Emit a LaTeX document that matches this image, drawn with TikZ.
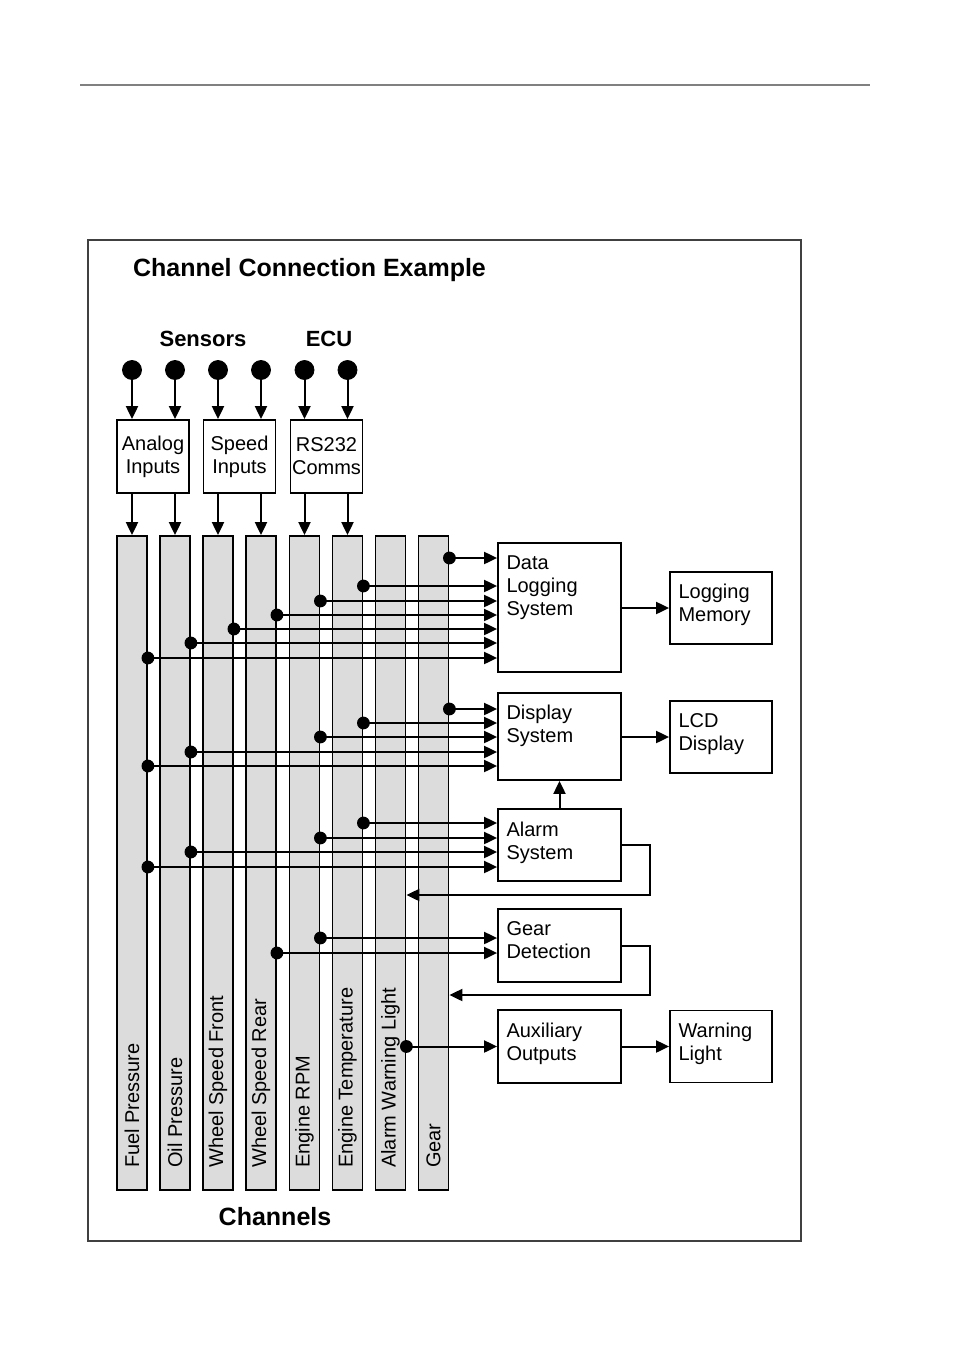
\documentclass[tikz,border=0pt]{standalone}
\usepackage{fontspec}
\setmainfont{Liberation Sans}
\usetikzlibrary{arrows.meta}
\definecolor{chanfill}{RGB}{220,220,220}
\definecolor{framecolor}{RGB}{64,64,64}

\begin{document}
\begin{tikzpicture}[x=0.5pt,y=-0.5pt]

    \tikzstyle{every node}=[font=\fontsize{10}{11.5}\selectfont]
    \tikzstyle{box}=[draw, line width=0.9pt, inner sep=0pt]
    \tikzstyle{inbox}=[box, minimum width=36pt, minimum height=36.5pt, align=center]
    \tikzstyle{sysbox}=[box, minimum width=61.5pt]
    \tikzstyle{outbox}=[box, minimum width=51pt, minimum height=36pt]
    \tikzstyle{chan}=[draw, fill=chanfill, line width=0.9pt, minimum width=15pt, minimum height=327pt, inner sep=0pt]
    \tikzstyle{arr}=[line width=1pt, -{Triangle[length=6.5pt,width=6pt]}]
    \tikzstyle{heading}=[font=\bfseries\fontsize{11}{13}\selectfont]
    \tikzset{toptext/.style={label={[anchor=north west, align=left, inner sep=0pt, xshift=4.5pt, yshift=-6.5pt]north west:{#1}}}}
    \def\tapdot{3.2pt}
    \def\srcdot{4.75pt}
    \def\barY{863}
    \def\srcY{370}

    \useasboundingbox (0,0) rectangle (954,1348);
    \draw[gray, line width=0.6pt] (80,85) -- (870,85);
    \draw[framecolor, line width=0.8pt] (88,240) rectangle (801,1241);

    \node[heading, font=\bfseries\fontsize{12.5}{15}\selectfont, anchor=west] (title) at (126,270) {Channel Connection Example};
    \node[heading] (sensors) at (203,339) {Sensors};
    \node[heading] (ecu) at (329,339) {ECU};
    \node[heading, font=\bfseries\fontsize{12.5}{15}\selectfont] (channels) at (275,1217) {Channels};

    \node[chan] (fuel)  at (132,\barY) {};
    \node[chan] (oil)   at (175,\barY) {};
    \node[chan] (front) at (218,\barY) {};
    \node[chan] (rear)  at (261,\barY) {};
    \node[chan] (rpm)   at (304.5,\barY) {};
    \node[chan] (temp)  at (347.5,\barY) {};
    \node[chan] (warn)  at (390.5,\barY) {};
    \node[chan] (gear)  at (433.5,\barY) {};

    \foreach \ch/\txt in {fuel/Fuel Pressure, oil/Oil Pressure, front/Wheel Speed Front,
                          rear/Wheel Speed Rear, rpm/Engine RPM, temp/Engine Temperature,
                          warn/Alarm Warning Light, gear/Gear}
        \node[rotate=90, anchor=west] (lbl-\ch) at ([yshift=8pt]\ch.south) {\txt};

    \node[inbox] (analog) at (153,456.5) {Analog\\Inputs};
    \node[inbox] (speed)  at (239.5,456.5) {Speed\\Inputs};
    \node[inbox] (rs)     at (326.5,456.5) {RS232\\Comms};

    \node[sysbox, minimum height=64.5pt, toptext={Data\\Logging\\System}] (dls)   at (559.5,607.5) {};
    \node[sysbox, minimum height=43.5pt, toptext={Display\\System}]       (disp)  at (559.5,736.5) {};
    \node[sysbox, minimum height=36pt,   toptext={Alarm\\System}]         (alarm) at (559.5,845) {};
    \node[sysbox, minimum height=36.5pt, toptext={Gear\\Detection}]       (gdet)  at (559.5,945.5) {};
    \node[sysbox, minimum height=36.5pt, toptext={Auxiliary\\Outputs}]    (aux)   at (559.5,1046.5) {};

    \node[outbox, toptext={Logging\\Memory}] (mem)    at (721,608) {};
    \node[outbox, toptext={LCD\\Display}]    (lcd)    at (721,737) {};
    \node[outbox, toptext={Warning\\Light}]  (wlight) at (721,1046.5) {};

    % sensor and ECU inputs
    \foreach \ch/\inp in {fuel/analog, oil/analog, front/speed, rear/speed, rpm/rs, temp/rs}{
        \coordinate (src-\ch) at (\ch.north |- 0,\srcY);
        \filldraw (src-\ch) circle (\srcdot);
        \draw[arr] (src-\ch) -- (src-\ch |- \inp.north);
        \draw[arr] (src-\ch |- \inp.south) -- (\ch.north);
    }

    \foreach \ch/\y in {gear/558, temp/586, rpm/601, rear/615, front/629, oil/643, fuel/658}{
        \draw[arr] (\ch.east |- 0,\y) -- (dls.west |- 0,\y);
        \fill (\ch.east |- 0,\y) circle (\tapdot);
    }
    \foreach \ch/\y in {gear/709, temp/723, rpm/737, oil/752, fuel/766}{
        \draw[arr] (\ch.east |- 0,\y) -- (disp.west |- 0,\y);
        \fill (\ch.east |- 0,\y) circle (\tapdot);
    }
    \foreach \ch/\y in {temp/823, rpm/838, oil/852, fuel/867}{
        \draw[arr] (\ch.east |- 0,\y) -- (alarm.west |- 0,\y);
        \fill (\ch.east |- 0,\y) circle (\tapdot);
    }
    \foreach \ch/\y in {rpm/938, rear/953}{
        \draw[arr] (\ch.east |- 0,\y) -- (gdet.west |- 0,\y);
        \fill (\ch.east |- 0,\y) circle (\tapdot);
    }

    \draw[arr] (alarm.east) -- ++(28,0) |- (warn.east |- 0,895);
    \draw[arr] (gdet.east) -- ++(28,0) |- (gear.east |- 0,995);
    \draw[arr] (warn.east |- aux) -- (aux.west);
    \fill (warn.east |- aux) circle (\tapdot);

    \draw[arr] (dls.east |- mem) -- (mem.west);
    \draw[arr] (disp.east |- lcd) -- (lcd.west);
    \draw[arr] (aux.east |- wlight) -- (wlight.west);
    \draw[arr] (alarm.north) -- (disp.south);
    %\draw[help lines] (0,0) grid (954,1348);
\end{tikzpicture}
\end{document}
